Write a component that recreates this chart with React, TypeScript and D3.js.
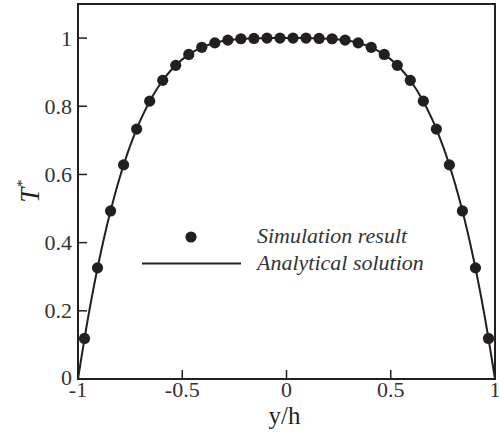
import React from "react";
import * as d3 from "d3";

// simulation points (cell centres)
const simX = [
  -0.96875, -0.90625, -0.84375, -0.78125, -0.71875, -0.65625, -0.59375, -0.53125,
  -0.46875, -0.40625, -0.34375, -0.28125, -0.21875, -0.15625, -0.09375, -0.03125,
  0.03125, 0.09375, 0.15625, 0.21875, 0.28125, 0.34375, 0.40625, 0.46875,
  0.53125, 0.59375, 0.65625, 0.71875, 0.78125, 0.84375, 0.90625, 0.96875,
];
const simT = [
  0.119, 0.326, 0.493, 0.628, 0.733, 0.815, 0.876, 0.92,
  0.952, 0.973, 0.986, 0.994, 0.998, 0.999, 1.0, 1.0,
  1.0, 1.0, 0.999, 0.998, 0.994, 0.986, 0.973, 0.952,
  0.92, 0.876, 0.815, 0.733, 0.628, 0.493, 0.326, 0.119,
];

// analytical solution
const anaX = [
  -1, -0.95, -0.9, -0.85, -0.8, -0.75, -0.7, -0.65, -0.6, -0.55, -0.5, -0.45, -0.4, -0.35,
  -0.3, -0.25, -0.2, -0.15, -0.1, -0.05, 0, 0.05, 0.1, 0.15, 0.2, 0.25, 0.3, 0.35, 0.4,
  0.45, 0.5, 0.55, 0.6, 0.65, 0.7, 0.75, 0.8, 0.85, 0.9, 0.95, 1,
];
const anaT = [
  0, 0.1855, 0.3439, 0.478, 0.5904, 0.6836, 0.7599, 0.8215, 0.8704, 0.9085, 0.9375, 0.959,
  0.9744, 0.985, 0.9919, 0.9961, 0.9984, 0.9995, 0.9999, 1.0, 1.0, 1.0, 0.9999, 0.9995,
  0.9984, 0.9961, 0.9919, 0.985, 0.9744, 0.959, 0.9375, 0.9085, 0.8704, 0.8215, 0.7599,
  0.6836, 0.5904, 0.478, 0.3439, 0.1855, 0,
];

const xTicks = [-1, -0.5, 0, 0.5, 1];
const xTickLabels = ["-1", "-0.5", "0", "0.5", "1"];
const yTicks = [0, 0.2, 0.4, 0.6, 0.8, 1];
const yTickLabels = ["0", "0.2", "0.4", "0.6", "0.8", "1"];
const legendLabels = ["Simulation result", "Analytical solution"];

export default function App() {
  const width = 499;
  const height = 435;
  const margin = { top: 4, right: 4, bottom: 56, left: 78 };
  const ink = "#231f20";
  const serif: React.CSSProperties = { fontFamily: '"Times New Roman", serif' };

  const x = d3.scaleLinear().domain([-1, 1]).range([margin.left, width - margin.right]);
  const y = d3.scaleLinear().domain([0, 1.1]).range([height - margin.bottom, margin.top]);

  const line = d3
    .line<number>()
    .x((_, i) => x(anaX[i]))
    .y((d) => y(d))
    .curve(d3.curveCatmullRom);

  const x0 = x(-1);
  const x1 = x(1);
  const y0 = y(0);
  const y1 = y(1.1);

  return (
    <svg
      width={width}
      height={height}
      style={{ position: "absolute", left: 0, top: 0, background: "#fff" }}
    >
      <path d={line(anaT) || ""} fill="none" stroke={ink} strokeWidth={2} />
      {simX.map((d, i) => (
        <circle key={i} cx={x(d)} cy={y(simT[i])} r={5.6} fill={ink} />
      ))}

      {/* frame */}
      <rect x={x0} y={y1} width={x1 - x0} height={y0 - y1} fill="none" stroke={ink} strokeWidth={2} />

      {/* x axis */}
      {xTicks.map((t, i) => (
        <g key={t}>
          <line x1={x(t)} x2={x(t)} y1={y0} y2={y0 - 9} stroke={ink} strokeWidth={1.5} />
          <text x={x(t)} y={y0 + 18} fontSize={22} textAnchor="middle" fill="#333" style={serif}>
            {xTickLabels[i]}
          </text>
        </g>
      ))}
      <text x={x(0) - 2} y={y0 + 45} fontSize={25} textAnchor="middle" fill={ink} style={serif}>
        y/h
      </text>

      {/* y axis */}
      {yTicks.map((t, i) => (
        <g key={t}>
          <line x1={x0} x2={x0 + 9} y1={y(t)} y2={y(t)} stroke={ink} strokeWidth={1.5} />
          <text
            x={x0 - 6}
            y={y(t) + (t === 0 ? 6 : 7.5)}
            fontSize={22}
            textAnchor="end"
            fill="#333"
            style={serif}
          >
            {yTickLabels[i]}
          </text>
        </g>
      ))}
      <text
        transform={`translate(39, ${y(0.55)}) rotate(-90)`}
        fontSize={27}
        fontStyle="italic"
        textAnchor="middle"
        fill={ink}
        style={serif}
      >
        T
        <tspan dy={-12} fontSize={15}>*</tspan>
      </text>

      {/* legend */}
      <circle cx={191} cy={237} r={5.6} fill={ink} />
      <line x1={142} x2={241} y1={263.5} y2={263.5} stroke={ink} strokeWidth={2} />
      <text x={257} y={243} fontSize={22} fontStyle="italic" fill="#333" style={serif}>
        {legendLabels[0]}
      </text>
      <text x={257} y={270} fontSize={22} fontStyle="italic" fill="#333" style={serif}>
        {legendLabels[1]}
      </text>
    </svg>
  );
}
